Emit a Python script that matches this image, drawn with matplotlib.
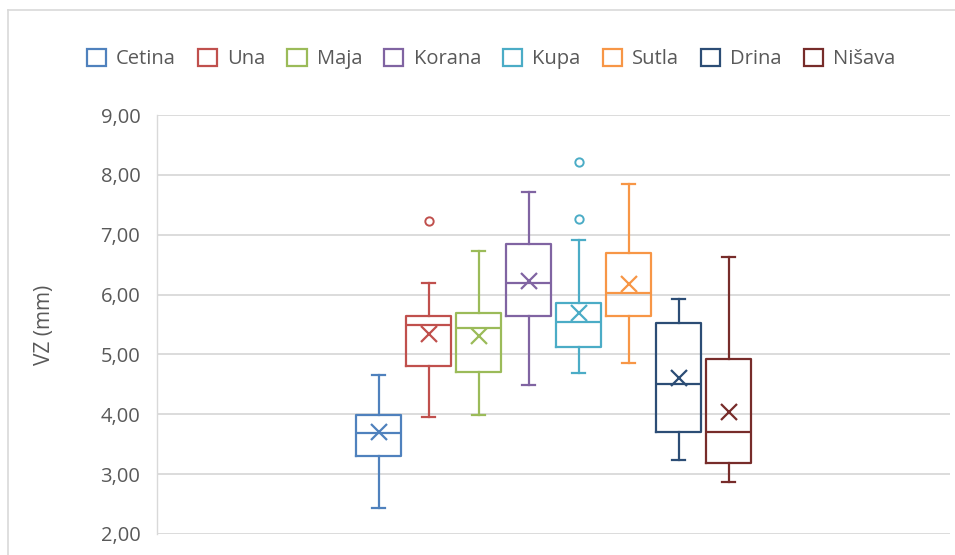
import matplotlib
matplotlib.use('Agg')
import matplotlib.pyplot as plt
from matplotlib.patches import Patch
from matplotlib.lines import Line2D
from matplotlib.ticker import FuncFormatter, MultipleLocator

plt.rcParams['font.family'] = ['Open Sans', 'DejaVu Sans']

# 8 rijeka, statistike očitane sa slike
rijeke = ['Cetina', 'Una', 'Maja', 'Korana', 'Kupa', 'Sutla', 'Drina', 'Nišava']
whislo = [2.44, 3.96, 3.98, 4.49, 4.69, 4.86, 3.23, 2.87]
q1     = [3.30, 4.80, 4.70, 5.64, 5.12, 5.64, 3.70, 3.18]
med    = [3.68, 5.49, 5.44, 6.19, 5.54, 6.02, 4.51, 3.70]
q3     = [3.98, 5.65, 5.69, 6.85, 5.86, 6.69, 5.52, 4.92]
whishi = [4.66, 6.19, 6.72, 7.71, 6.91, 7.84, 5.93, 6.62]
mean   = [3.70, 5.34, 5.30, 6.23, 5.69, 6.17, 4.61, 4.04]
fliers = [[], [7.23], [], [], [8.22, 7.26], [], [], []]
boje = ['#4F81BD', '#C0504D', '#9BBB59', '#8064A2', '#4BACC6', '#F79646', '#2C4D75', '#772C2A']

W, H = 955, 555
fig = plt.figure(figsize=(W/100, H/100), dpi=100)
ax = fig.add_axes([157/W, 1-534/H, (950-157)/W, (534-115)/H])

korak = 50/793
sirina = 45/793
for i, (ime, c) in enumerate(zip(rijeke, boje)):
    st = [dict(label=ime, whislo=whislo[i], q1=q1[i], med=med[i], q3=q3[i],
               whishi=whishi[i], mean=mean[i], fliers=fliers[i])]
    pos = 0.5 + (i - 3.5) * korak
    ax.bxp(st, positions=[pos], widths=sirina, capwidths=13/793, showmeans=True,
           boxprops=dict(color=c, lw=1.6),
           medianprops=dict(color=c, lw=1.6),
           whiskerprops=dict(color=c, lw=1.6),
           capprops=dict(color=c, lw=1.6),
           meanprops=dict(marker='x', markeredgecolor=c, markersize=12, markeredgewidth=1.6),
           flierprops=dict(marker='o', markerfacecolor='none', markeredgecolor=c,
                           markersize=6, markeredgewidth=1.4))

ax.set_xlim(0, 1)
ax.set_ylim(2, 9)
ax.yaxis.set_major_locator(MultipleLocator(1))
ax.yaxis.set_major_formatter(FuncFormatter(lambda v, p: f'{v:.2f}'.replace('.', ',')))
ax.set_xticks([])
ax.grid(axis='y', color='#D9D9D9', lw=1.3)
ax.set_axisbelow(True)
for s in ['top', 'right', 'bottom']:
    ax.spines[s].set_visible(False)
ax.spines['left'].set_color('#D9D9D9')
ax.spines['left'].set_linewidth(1.0)
ax.tick_params(axis='y', length=0, pad=12, labelsize=14.5, labelcolor='#595959')
ax.set_ylabel('VZ (mm)', fontsize=15, color='#595959', labelpad=33)

# legenda
rucke = [Patch(facecolor='white', edgecolor=c, lw=1.6) for c in boje]
fig.legend(rucke, rijeke, loc='center', bbox_to_anchor=(491/W, 1-59/H), ncol=8,
           frameon=False, fontsize=14.5, labelcolor='#595959', handlelength=0.95,
           handleheight=0.95, handletextpad=0.5, columnspacing=1.1)

# okvir grafikona
fig.add_artist(Line2D([8/W, 8/W], [0, 1-10/H], color='#D9D9D9', lw=1.2))
fig.add_artist(Line2D([8/W, 1], [1-10/H, 1-10/H], color='#D9D9D9', lw=1.2))

fig.savefig('out.png', dpi=100)
